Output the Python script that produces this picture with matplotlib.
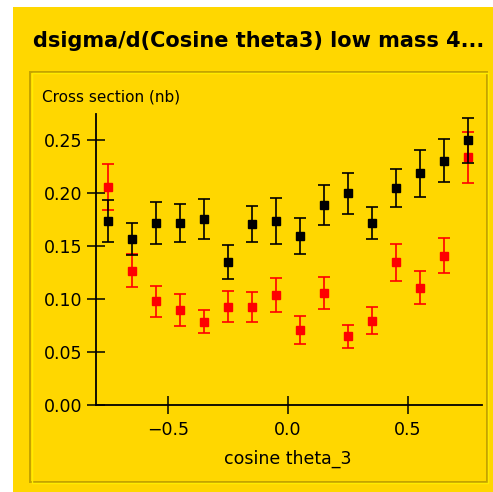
import matplotlib
matplotlib.use("Agg")
import matplotlib.pyplot as plt
from matplotlib.patches import Rectangle

# Bin centres of cos(theta_3)
cos_theta = [-0.75, -0.65, -0.55, -0.45, -0.35, -0.25, -0.15, -0.05,
             0.05, 0.15, 0.25, 0.35, 0.45, 0.55, 0.65, 0.75]

# Black series: cross section (nb) and its uncertainty
black_xsec = [0.174, 0.157, 0.172, 0.172, 0.176, 0.135, 0.171, 0.174,
              0.160, 0.189, 0.200, 0.172, 0.205, 0.219, 0.231, 0.250]
black_err = [0.020, 0.015, 0.020, 0.018, 0.019, 0.016, 0.017, 0.022,
             0.017, 0.019, 0.019, 0.015, 0.018, 0.022, 0.020, 0.021]

# Red series: cross section (nb) and its uncertainty
red_xsec = [0.206, 0.127, 0.098, 0.090, 0.079, 0.093, 0.093, 0.104,
            0.071, 0.106, 0.065, 0.080, 0.135, 0.111, 0.141, 0.234]
red_err = [0.022, 0.0155, 0.0145, 0.015, 0.011, 0.0145, 0.014, 0.016,
           0.013, 0.0155, 0.0105, 0.013, 0.0175, 0.0155, 0.0165, 0.024]

x_ticks = [-0.5, 0.0, 0.5]
x_ticklabels = ["\u22120.5", "0.0", "0.5"]
y_ticks = [0.00, 0.05, 0.10, 0.15, 0.20, 0.25]
y_ticklabels = ["0.00", "0.05", "0.10", "0.15", "0.20", "0.25"]

title = "dsigma/d(Cosine theta3) low mass 4..."
x_label = "cosine theta_3"
y_label = "Cross section (nb)"

W, H = 493, 492
GOLD = "#FFD700"
fig = plt.figure(figsize=(W / 100, H / 100), dpi=100, facecolor="white")


def px_rect(x0, y0, x1, y1, **kw):
    """Rectangle given in pixel coordinates measured from the top-left."""
    fig.patches.append(Rectangle((x0 / W, 1 - y1 / H), (x1 - x0) / W, (y1 - y0) / H,
                                 transform=fig.transFigure, **kw))


# outer gold panel
px_rect(13, 7, W, H, facecolor=GOLD, edgecolor="none", zorder=-2)
# etched inner frame
px_rect(30, 71.5, 486.5, 481.5, facecolor="none", edgecolor="#C4A300", linewidth=1.4, zorder=-1)
px_rect(31.5, 73, 488, 483, facecolor="none", edgecolor="#FFEC00", linewidth=1.0, zorder=-1)

fig.text(33 / W, 1 - 46.7 / H, title, fontsize=15, fontweight="bold",
         ha="left", va="baseline", color="black")

ax_l, ax_r = 96, 482.3
ax_b, ax_t = 405.3, 114
ax = fig.add_axes([ax_l / W, 1 - ax_b / H, (ax_r - ax_l) / W, (ax_b - ax_t) / H])
ax.set_zorder(2)
ax.set_facecolor("none")
ax.set_xlim(-0.8, 0.81)
ax.set_ylim(0.0, 0.275)

for s in ("top", "right"):
    ax.spines[s].set_visible(False)
for s in ("left", "bottom"):
    ax.spines[s].set_linewidth(1.3)
    ax.spines[s].set_color("black")

ax.set_xticks(x_ticks, x_ticklabels)
ax.set_yticks(y_ticks, y_ticklabels)
ax.tick_params(axis="both", direction="inout", length=13, width=1.1,
               labelsize=12.5, colors="black")
ax.tick_params(axis="x", pad=5)
ax.tick_params(axis="y", pad=3.5)

common = dict(fmt="s", markersize=6.2, elinewidth=1.2, capsize=4.5, capthick=1.2,
              linestyle="none", clip_on=False)
ax.errorbar(cos_theta, red_xsec, yerr=red_err, color="#FF0000", zorder=3, **common)
ax.errorbar(cos_theta, black_xsec, yerr=black_err, color="black", zorder=4, **common)

fig.text(42 / W, 1 - 101.7 / H, y_label, fontsize=11, ha="left", va="baseline")
fig.text(288 / W, 1 - 464 / H, x_label, fontsize=12.5, ha="center", va="baseline")

fig.savefig("out.png", dpi=100, facecolor="white")
